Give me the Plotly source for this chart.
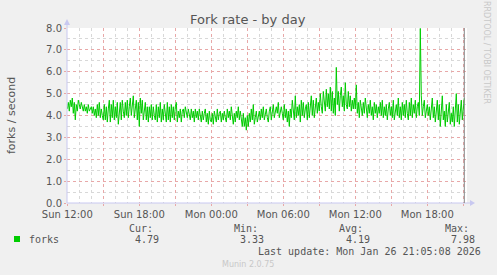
import plotly.graph_objects as go
import pandas as pd

# ---- data (5-minute samples, one row per hour) ----
start_time = "2026-01-25 12:00:00"
forks = [
    4.3, 4.6, 4.2, 4.7, 4.4, 4.8, 4.1, 4.6, 3.8, 4.5, 4.2, 4.7,
    4.5, 4.3, 4.6, 4.4, 4.2, 4.5, 4.2, 4.4, 4.1, 4.5, 4.2, 4.3,
    4.4, 4.1, 4.4, 4.0, 4.3, 3.9, 4.5, 4.0, 4.6, 3.9, 4.3, 4.0,
    3.8, 4.5, 3.8, 4.4, 3.7, 4.3, 4.7, 3.7, 4.5, 3.9, 4.7, 3.8,
    4.4, 3.9, 4.6, 3.6, 4.3, 4.6, 3.8, 4.7, 4.2, 3.9, 4.6, 4.0,
    4.7, 3.9, 4.4, 4.8, 4.0, 4.6, 4.9, 3.9, 4.5, 4.7, 3.8, 4.6,
    3.5, 4.8, 4.1, 4.7, 3.8, 4.4, 4.6, 3.8, 4.4, 3.7, 4.4, 3.9,
    4.5, 3.8, 4.4, 4.0, 3.8, 4.5, 3.7, 4.4, 3.9, 4.6, 3.7, 4.3,
    3.8, 4.5, 3.9, 3.7, 4.6, 3.8, 4.4, 3.7, 4.5, 3.9, 4.4, 3.8,
    4.4, 4.6, 3.7, 4.2, 3.9, 4.3, 3.7, 4.2, 4.3, 3.9, 4.4, 4.0,
    3.9, 4.3, 4.0, 3.8, 4.3, 3.9, 4.2, 3.7, 4.3, 3.9, 4.2, 3.8,
    4.3, 3.9, 3.7, 4.2, 3.8, 4.1, 4.3, 3.7, 4.1, 3.6, 4.2, 3.8,
    3.7, 4.1, 3.6, 4.2, 3.8, 3.7, 4.3, 3.8, 4.1, 4.2, 3.7, 4.1,
    3.8, 4.2, 3.9, 3.7, 4.3, 3.9, 4.2, 3.8, 4.4, 3.9, 3.6, 4.1,
    3.7, 4.2, 3.9, 4.4, 3.8, 4.2, 3.7, 3.5, 4.1, 3.5, 3.9, 3.33,
    4.0, 3.5, 4.1, 3.7, 4.3, 3.8, 4.5, 3.6, 3.9, 4.2, 3.7, 4.1,
    4.2, 3.8, 4.3, 3.9, 4.4, 3.8, 4.2, 4.3, 3.9, 3.7, 4.2, 4.4,
    3.8, 4.3, 4.5, 3.9, 4.2, 4.4, 4.1, 4.6, 3.9, 4.2, 4.4, 4.1,
    3.8, 4.5, 3.9, 4.3, 3.7, 4.2, 3.5, 4.3, 3.9, 4.7, 4.0, 3.8,
    4.9, 3.9, 4.4, 4.0, 4.5, 3.7, 4.7, 4.0, 4.6, 3.9, 4.3, 4.5,
    3.8, 4.6, 3.9, 4.4, 4.9, 4.0, 4.7, 3.9, 4.4, 4.8, 4.1, 4.6,
    4.2, 5.0, 4.4, 4.1, 5.1, 4.5, 4.2, 5.2, 4.4, 5.0, 4.3, 5.3,
    4.2, 5.1, 4.1, 4.8, 4.0, 6.2, 4.5, 5.1, 4.2, 4.9, 5.3, 4.4,
    4.9, 4.2, 5.5, 4.5, 4.3, 5.1, 4.4, 4.9, 4.2, 4.7, 4.3, 4.8,
    4.3, 5.4, 4.1, 4.6, 3.9, 4.7, 4.2, 4.0, 4.6, 4.1, 4.8, 4.2,
    3.9, 4.5, 4.1, 4.7, 4.0, 4.4, 3.8, 4.6, 4.1, 4.5, 3.9, 4.4,
    4.1, 4.6, 4.0, 4.7, 3.9, 4.4, 4.0, 4.5, 3.8, 4.3, 4.6, 4.0,
    4.4, 3.9, 4.7, 3.8, 4.3, 4.5, 4.0, 4.8, 3.9, 4.4, 3.8, 4.6,
    4.0, 4.5, 3.9, 4.7, 4.1, 3.8, 4.6, 4.0, 4.8, 3.9, 4.5, 4.1,
    4.7, 3.9, 4.4, 4.6, 4.0, 7.98, 4.9, 4.0, 4.4, 4.7, 3.9, 4.3,
    4.5, 4.0, 4.4, 3.8, 4.3, 4.8, 3.9, 4.4, 3.7, 4.2, 4.7, 3.8,
    4.5, 3.5, 4.3, 4.9, 3.8, 4.2, 3.5, 4.5, 3.7, 4.2, 4.6, 3.6,
    4.1, 3.7, 4.4, 3.5, 4.2, 5.0, 3.7, 4.5, 3.6, 4.3, 4.7, 3.8,
    4.5, 4.79,
]
times = pd.date_range(start_time, periods=len(forks), freq="5min")

x_range = ["2026-01-25 11:58:30", "2026-01-26 21:18:30"]
tick_vals = pd.date_range("2026-01-25 12:00", "2026-01-26 21:00", freq="3h")
tick_labels = ["Sun 12:00", "", "Sun 18:00", "", "Mon 00:00", "", "Mon 06:00", "",
               "Mon 12:00", "", "Mon 18:00", ""]

title = "Fork rate - by day"
y_label = "forks / second"
series_name = "forks"
stat_names = ["Cur:", "Min:", "Avg:", "Max:"]
stat_values = ["4.79", "3.33", "4.19", "7.98"]
last_update = "Last update: Mon Jan 26 21:05:08 2026"
footer = "Munin 2.0.75"
side_text = "RRDTOOL / TOBI OETIKER"

# ---- layout geometry (pixels) ----
W, H = 497, 275
L, R, T, B = 67, 467, 28, 203  # plot area box


def px(x):
    return (x - L) / (R - L)


def py(y):
    return (B - y) / (B - T)


fig = go.Figure()
fig.add_trace(go.Scatter(x=times, y=forks, mode="lines",
                         line=dict(color="#00CC00", width=1),
                         hoverinfo="skip", showlegend=False))

MGRID = "#E8A8A8"
NGRID = "#D8D8D8"
TXT = "#555555"

fig.update_layout(
    width=W, height=H,
    margin=dict(l=L, r=W - R, t=T, b=H - B, pad=0),
    paper_bgcolor="#F0F0F0",
    plot_bgcolor="#FFFFFF",
    font=dict(family="DejaVu Sans", size=10, color=TXT),
    xaxis=dict(
        range=x_range, type="date",
        tickmode="array", tickvals=tick_vals, ticktext=tick_labels,
        showgrid=True, gridcolor=MGRID, griddash="dot", gridwidth=1,
        ticks="outside", ticklen=2, tickcolor=MGRID,
        tickfont=dict(family="DejaVu Sans", size=10, color=TXT),
        minor=dict(dtick=3600000, tick0="2026-01-25 12:00", showgrid=True,
                   gridcolor=NGRID, griddash="dot", gridwidth=1, ticks=""),
        showline=False, zeroline=False, fixedrange=True,
    ),
    yaxis=dict(
        range=[0, 8], dtick=1, tick0=0, tickformat=".1f",
        showgrid=True, gridcolor=MGRID, griddash="dot", gridwidth=1,
        ticks="outside", ticklen=2, tickcolor=MGRID,
        tickfont=dict(family="DejaVu Sans", size=10, color=TXT),
        minor=dict(dtick=0.5, showgrid=True, gridcolor=NGRID,
                   griddash="dot", gridwidth=1, ticks=""),
        showline=False, zeroline=False, fixedrange=True,
    ),
    showlegend=False,
)

# axis lines (lavender) with arrows
AX = "#C8C8F0"
fig.add_shape(type="line", xref="paper", yref="paper", x0=0, x1=px(470),
              y0=0, y1=0, line=dict(color=AX, width=1))
fig.add_shape(type="line", xref="paper", yref="paper", x0=0, x1=0,
              y0=0, y1=py(22), line=dict(color=AX, width=1))
fig.add_shape(type="path", xref="paper", yref="paper",
              path=f"M {px(470)} {py(200)} L {px(475)} {py(203)} L {px(470)} {py(206)} Z",
              fillcolor=AX, line=dict(color=AX, width=0))
fig.add_shape(type="path", xref="paper", yref="paper",
              path=f"M {px(64)} {py(25)} L {px(67)} {py(19)} L {px(70)} {py(25)} Z",
              fillcolor=AX, line=dict(color=AX, width=0))
# end-of-data rule
fig.add_shape(type="line", xref="x", yref="paper", x0=times[-1], x1=times[-1],
              y0=0, y1=1, line=dict(color="#888888", width=1))

MONO = "DejaVu Sans Mono"


def ann(text, x, y, size=10, color=TXT, family=MONO, xanchor="left", angle=0):
    fig.add_annotation(text=text, xref="paper", yref="paper", x=px(x), y=py(y),
                       showarrow=False, xanchor=xanchor, yanchor="middle",
                       textangle=angle, font=dict(family=family, size=size, color=color))


ann(title, 248, 20, size=13, family="DejaVu Sans", xanchor="center")
ann(y_label, 11, 115, size=11, family="DejaVu Sans", xanchor="center", angle=-90)
ann(side_text, 487, 52, size=8, color="#C8C8C8", family="DejaVu Sans",
    xanchor="center", angle=90)

# legend
fig.add_shape(type="rect", xref="paper", yref="paper",
              x0=px(14), x1=px(20), y0=py(242), y1=py(236),
              fillcolor="#00CC00", line=dict(width=0))
ann(series_name, 27, 239.5)
label_right = [155, 260, 365, 471]
value_right = [161, 266, 372, 477]
for name, val, lx, vx in zip(stat_names, stat_values, label_right, value_right):
    ann(name, lx, 228, xanchor="right")
    ann(val, vx, 239.5, xanchor="right")
ann(last_update, 483, 251, xanchor="right")
ann(footer, 248, 264, size=8, color="#C8C8C8", family="DejaVu Sans", xanchor="center")

fig.write_html("out.html")
